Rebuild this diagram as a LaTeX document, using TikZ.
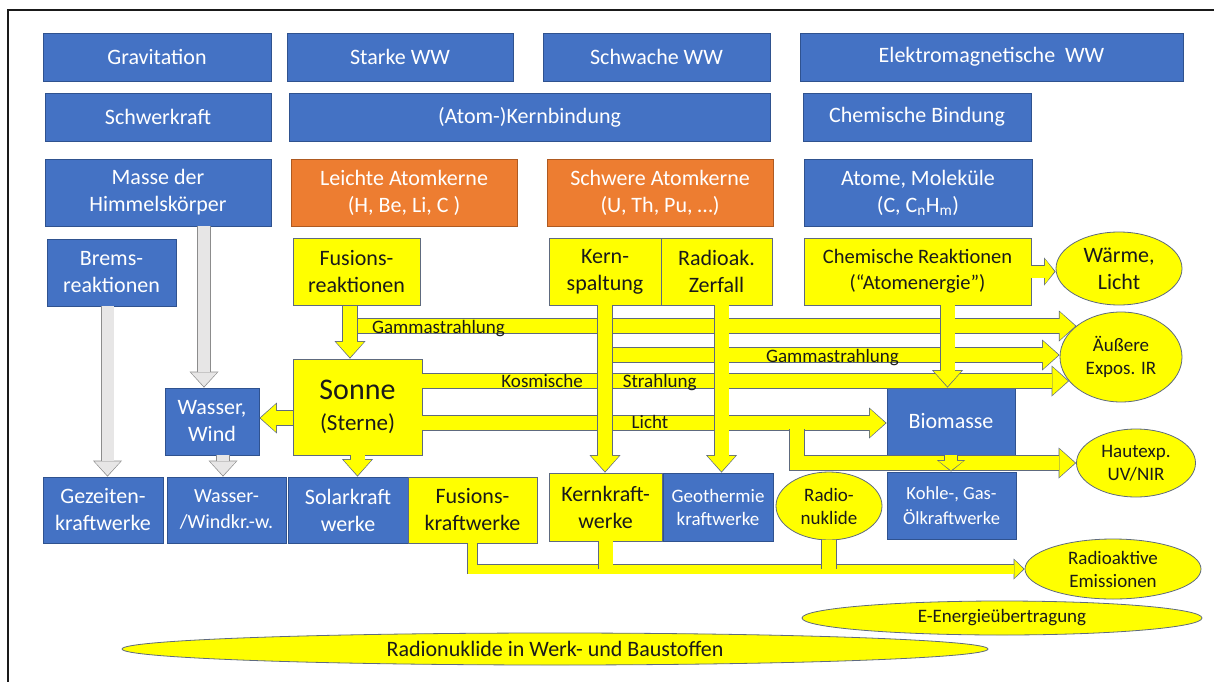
\documentclass[tikz,border=0pt]{standalone}
\usepackage{fontspec}
\setmainfont{Carlito}
\usetikzlibrary{arrows.meta,shapes.geometric}
\definecolor{boxblue}{HTML}{4472C4}
\definecolor{blueedge}{HTML}{2F528F}
\definecolor{boxorange}{HTML}{ED7D31}
\definecolor{orangeedge}{HTML}{AE5A21}
\definecolor{boxyellow}{HTML}{FFFF00}
\definecolor{edgegray}{HTML}{5E6A7E}
\definecolor{arrgray}{HTML}{E7E6E6}
\definecolor{arredge}{HTML}{8C8C8C}
\definecolor{inkdark}{HTML}{1A1A1A}

\begin{document}
\begin{tikzpicture}[
  x=1pt, y=-1pt,
  every node/.style={font=\fontsize{22}{27}\selectfont, align=center, inner sep=1pt},
  wh/.style 2 args={minimum width=#1pt, minimum height=#2pt},
  bb/.style={draw=blueedge, fill=boxblue, text=white, line width=0.8pt},
  ob/.style={draw=orangeedge, fill=boxorange, text=white, line width=0.8pt},
  yb/.style={draw=edgegray, fill=boxyellow, text=inkdark, line width=0.8pt},
  ov/.style={yb, ellipse, inner sep=0pt},
  small/.style={font=\fontsize{19}{23}\selectfont},
  lbl/.style={small, text=inkdark, inner sep=0pt, anchor=base},
  garr/.style={line width=12pt, draw=arrgray, shorten >=1.2pt,
    -{Triangle[length=14pt,width=26pt,line width=0pt]},
    preaction={draw=arredge, line width=13.6pt, shorten >=0pt,
      -{Triangle[length=16pt,width=29pt,line width=0pt]}}},
  yarr/.style={line width=14pt, draw=boxyellow, shorten >=1.2pt, line join=miter,
    -{Triangle[length=15.5pt,width=28pt,line width=0pt]},
    preaction={draw=edgegray, line width=15.6pt, shorten >=0pt,
      -{Triangle[length=17.5pt,width=31pt,line width=0pt]}}},
  yshort/.style={line width=12pt, draw=boxyellow, shorten >=1.2pt,
    -{Triangle[length=9.5pt,width=25pt,line width=0pt]},
    preaction={draw=edgegray, line width=13.6pt, shorten >=0pt,
      -{Triangle[length=11.5pt,width=28pt,line width=0pt]}}},
  ysmall/.style={line width=9pt, draw=boxyellow, shorten >=1.2pt, line join=miter,
    -{Triangle[length=9pt,width=18pt,line width=0pt]},
    preaction={draw=edgegray, line width=10.6pt, shorten >=0pt,
      -{Triangle[length=11pt,width=21pt,line width=0pt]}}},
  yband/.style={line width=14pt, draw=boxyellow,
    preaction={draw=edgegray, line width=15.6pt}},
]
  \useasboundingbox (0,0) rectangle (1214,682);
  \draw[line width=1.2pt, draw=inkdark] (1214,10) -- (8,10) -- (8,682);

  % forces
  \node[bb, wh={228}{48}] (grav) at (157,57) {Gravitation};
  \node[bb, wh={226}{48}] (starke) at (400,57) {Starke WW};
  \node[bb, wh={227}{48}] (schwach) at (656.5,57) {Schwache WW};
  \node[bb, wh={383}{48}] (elmag) at (991.5,57) {Elektromagnetische~~WW};
  \node[bb, wh={226}{48}] (schwer) at (158,117) {Schwerkraft};
  \node[bb, wh={481}{48}] (kernbind) at (529.5,117) {(Atom-)Kernbindung};
  \node[bb, wh={228}{48}] (chembind) at (917,117) {Chemische Bindung};

  % carriers
  \node[bb, wh={226}{67}] (masse) at (158,192.5) {Masse der\\Himmelskörper};
  \node[ob, wh={226}{67}] (leicht) at (404,192.5) {Leichte Atomkerne\\(H, Be, Li, C )};
  \node[ob, wh={226}{67}] (schwere) at (660,192.5) {Schwere Atomkerne\\(U, Th, Pu, …)};
  \node[bb, wh={228}{67}] (atome) at (918,192.5) {Atome, Moleküle\\(C, C\textsubscript{n}H\textsubscript{m})};

  % processes
  \node[bb, wh={129}{67}] (brems) at (111.5,272.5) {Brems-\\reaktionen};
  \node[yb, wh={127}{67}] (fusreak) at (356.5,272) {Fusions-\\reaktionen};
  \node[yb, wh={112}{67}] (kernsp) at (605,271.5) {Kern-\\spaltung};
  \node[yb, wh={111}{67}] (zerfall) at (716.5,271.5) {Radioak.\\Zerfall};
  \node[yb, wh={227}{67}, font=\fontsize{20.5}{26}\selectfont] (chemreak) at (917.5,271.5) {Chemische Reaktionen\\(“Atomenergie”)};
  \node[ov, wh={126}{73}] (waerme) at (1119,268.5) {Wärme,\\Licht};

  \node[bb, wh={94}{67}] (wasser) at (212,421.5) {Wasser,\\Wind};
  \node[yb, wh={129}{96}, font=\fontsize{30}{31}\selectfont] (sonne) at (357.5,407) {Sonne\\{\fontsize{23}{26}\selectfont(Sterne)}};
  \node[bb, wh={128}{67}] (biomasse) at (951,421.5) {Biomasse};
  \node[ov, wh={122}{90}, small] (aussen) at (1121,357) {Äußere\\Expos. IR};
  \node[ov, wh={119}{68}, small] (haut) at (1136,463) {Hautexp.\\UV/NIR};

  % plants
  \node[bb, wh={120}{66}] (gezeit) at (103,510) {Gezeiten-\\kraftwerke};
  \node[bb, wh={119}{66}, font=\fontsize{20}{26}\selectfont] (wwk) at (226.5,510) {Wasser-\\/Windkr.-w.};
  \node[bb, wh={120}{66}] (solar) at (348,510) {Solarkraft\\werke};
  \node[yb, wh={129}{66}] (fuskw) at (472.5,510) {Fusions-\\kraftwerke};
  \node[yb, wh={113}{68}] (kernkw) at (605.5,507) {Kernkraft-\\werke};
  \node[bb, wh={110}{68}, small] (geo) at (718,507) {Geothermie\\kraftwerke};
  \node[ov, wh={106}{68}, small] (radnuk) at (829,506) {Radio-\\nuklide};
  \node[bb, wh={129}{67}, font=\fontsize{18.5}{25}\selectfont] (kohle) at (951.5,505.5) {Kohle-, Gas-\\Ölkraftwerke};
  \node[ov, wh={176}{60}, small] (emiss) at (1113,569) {Radioaktive\\Emissionen};
  \node[ov, wh={400}{34}, small] (eenergie) at (1002,618) {E-Energieübertragung};
  \node[ov, wh={866}{32}] (baustoff) at (555,649) {Radionuklide in Werk- und Baustoffen};

  % gravitation paths
  \coordinate (gm) at ([xshift=46pt]masse.south);
  \coordinate (gb) at ([xshift=-4pt]brems.south);
  \coordinate (gw) at ([xshift=11pt]wasser.south);
  \draw[garr] (gm) -- (gm |- wasser.north);
  \draw[garr] (gb) -- (gb |- gezeit.north);
  \draw[garr] (gw) -- (gw |- wwk.north);

  % radiation bands
  \coordinate (fg) at (350,326);
  \coordinate (kg) at (605,355);
  \coordinate (ks) at ([yshift=26pt]sonne.east);
  \coordinate (li) at ([yshift=-16pt]sonne.east);
  \coordinate (lk) at (797,429);
  \coordinate (sw) at ([yshift=-11pt]sonne.west);
  \draw[yarr] (fg) -- (fg -| aussen.145);
  \draw[yarr] (kg) -- (kg -| aussen.west);
  \draw[yarr] (ks) -- (ks -| aussen.205);
  \draw[yarr] (li) -- (li -| biomasse.west);
  \draw[yarr] (lk) |- (haut.west);
  \draw[yarr] (sw) -- (sw -| wasser.east);

  % emissions
  \draw[ysmall] (fuskw.south) |- (emiss.west);
  \draw[yband] (kernkw.south) -- (kernkw.south |- emiss.west);
  \draw[yband] (radnuk.south) -- (radnuk.south |- emiss.west);

  % downward flows
  \coordinate (fs) at ([xshift=-6.5pt]fusreak.south);
  \coordinate (zf) at ([xshift=5pt]zerfall.south);
  \coordinate (cr) at ([xshift=30pt]chemreak.south);
  \draw[yarr] (fs) -- (fs |- sonne.north);
  \draw[yarr] (kernsp.south) -- (kernsp.south |- kernkw.north);
  \draw[yarr] (zf) -- (zf |- geo.north);
  \draw[yarr] (cr) -- (cr |- biomasse.north);
  \draw[yarr] (sonne.south) -- (sonne.south |- solar.north);
  \draw[yshort] (biomasse.south) -- (biomasse.south |- kohle.north);
  \draw[yshort] (chemreak.east) -- (chemreak.east -| waerme.west);

  \node[lbl] (lgama) at (438.5,333) {Gammastrahlung};
  \node[lbl] (lgamb) at (832.5,362) {Gammastrahlung};
  \node[lbl] (lkosm) at (599,387) {Kosmische\hspace{40pt}Strahlung};
  \node[lbl] (llicht) at (650,428) {Licht};
\end{tikzpicture}
\end{document}
